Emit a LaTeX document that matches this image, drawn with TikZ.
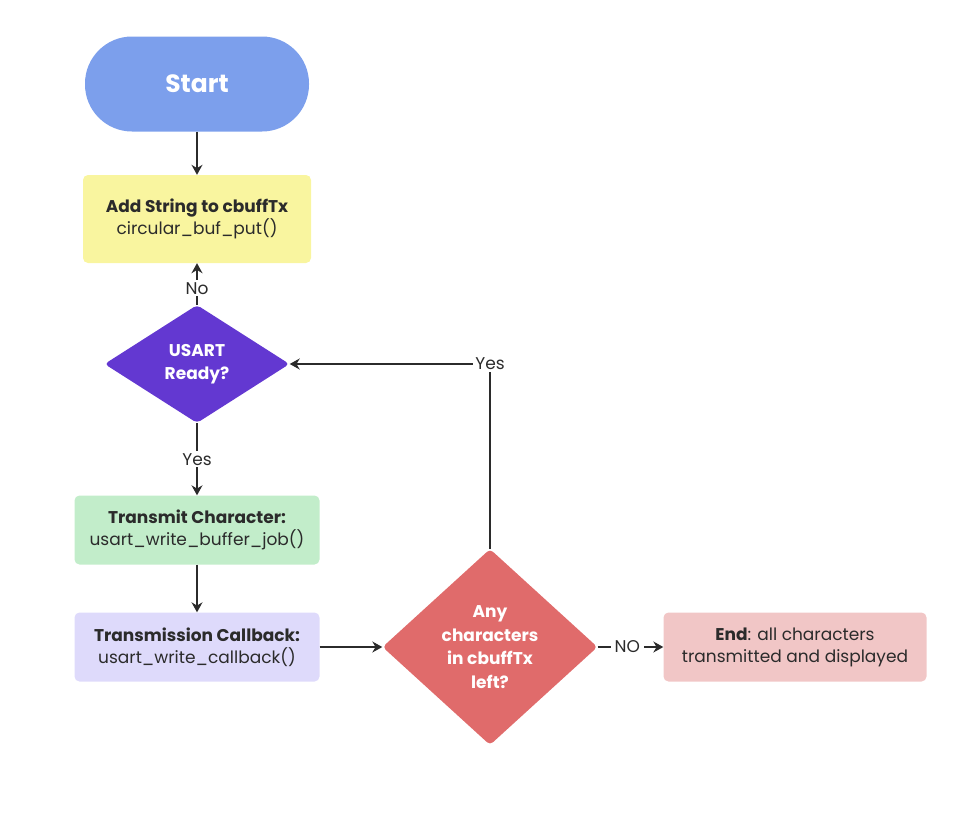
\documentclass[tikz,border=0pt]{standalone}
\usepackage{fontspec}
\setmainfont{Poppins}
\usetikzlibrary{shapes.geometric,arrows.meta}
\definecolor{startblue}{HTML}{7C9FEC}
\definecolor{addyellow}{HTML}{F9F59F}
\definecolor{readypurple}{HTML}{6338D1}
\definecolor{txgreen}{HTML}{C2EDCA}
\definecolor{cblavender}{HTML}{DEDAFB}
\definecolor{leftred}{HTML}{E06B6B}
\definecolor{endpink}{HTML}{F1C6C6}
\definecolor{inkgray}{HTML}{2B2B2B}
\begin{document}
\begin{tikzpicture}[x=1pt,y=-1pt,
        font=\fontsize{17}{22}\selectfont,
        text=inkgray,
        stepbox/.style={rounded corners=5pt,align=center,inner sep=0pt},
        decision/.style={diamond,rounded corners=4pt,align=center,inner sep=0pt,text=white,font=\fontsize{17}{23.5}\selectfont\bfseries},
        flow/.style={draw=inkgray,line width=1.5pt,-{Stealth[length=10pt,width=11pt]}},
        answer/.style={fill=white,inner sep=2pt,text=inkgray}]
        \useasboundingbox (0,0) rectangle (973,812);
        \node[fill=startblue,rounded corners=47pt,minimum width=224pt,minimum height=95pt,text=white,font=\fontsize{25}{28}\selectfont\bfseries] (start) at (197,84) {Start};
        \node[stepbox,fill=addyellow,minimum width=228pt,minimum height=88pt] (addstr) at (197,219) {\textbf{Add String to cbuffTx}\\circular\_buf\_put()};
        \node[decision,fill=readypurple,minimum width=185pt,minimum height=118pt] (ready) at (197,364) {USART\\Ready?};
        \node[stepbox,fill=txgreen,minimum width=245pt,minimum height=69pt] (txchar) at (197,530) {\textbf{Transmit Character:}\\usart\_write\_buffer\_job()};
        \node[stepbox,fill=cblavender,minimum width=245pt,minimum height=69pt] (txcb) at (197,647) {\textbf{Transmission Callback:}\\usart\_write\_callback()};
        \node[decision,fill=leftred,minimum width=215pt,minimum height=196pt] (anyleft) at (490,647) {Any\\characters\\in cbuffTx\\left?};
        \node[stepbox,fill=endpink,minimum width=263pt,minimum height=69pt] (finish) at (795,647) {\textbf{End}: all characters\\transmitted and displayed};
        % connectors
        \draw[flow] (start) -- (addstr);
        \draw[flow] (ready) -- node[answer,pos=0.4] {No} (addstr);
        \draw[flow] (ready) -- node[answer] {Yes} (txchar);
        \draw[flow] (txchar) -- (txcb);
        \draw[flow] (txcb) -- (anyleft);
        \draw[flow] (anyleft) |- node[answer,pos=0.5] {Yes} (ready);
        \draw[flow] (anyleft) -- node[answer,inner xsep=4pt,pos=0.45] {NO} (finish);
    \end{tikzpicture}
\end{document}
